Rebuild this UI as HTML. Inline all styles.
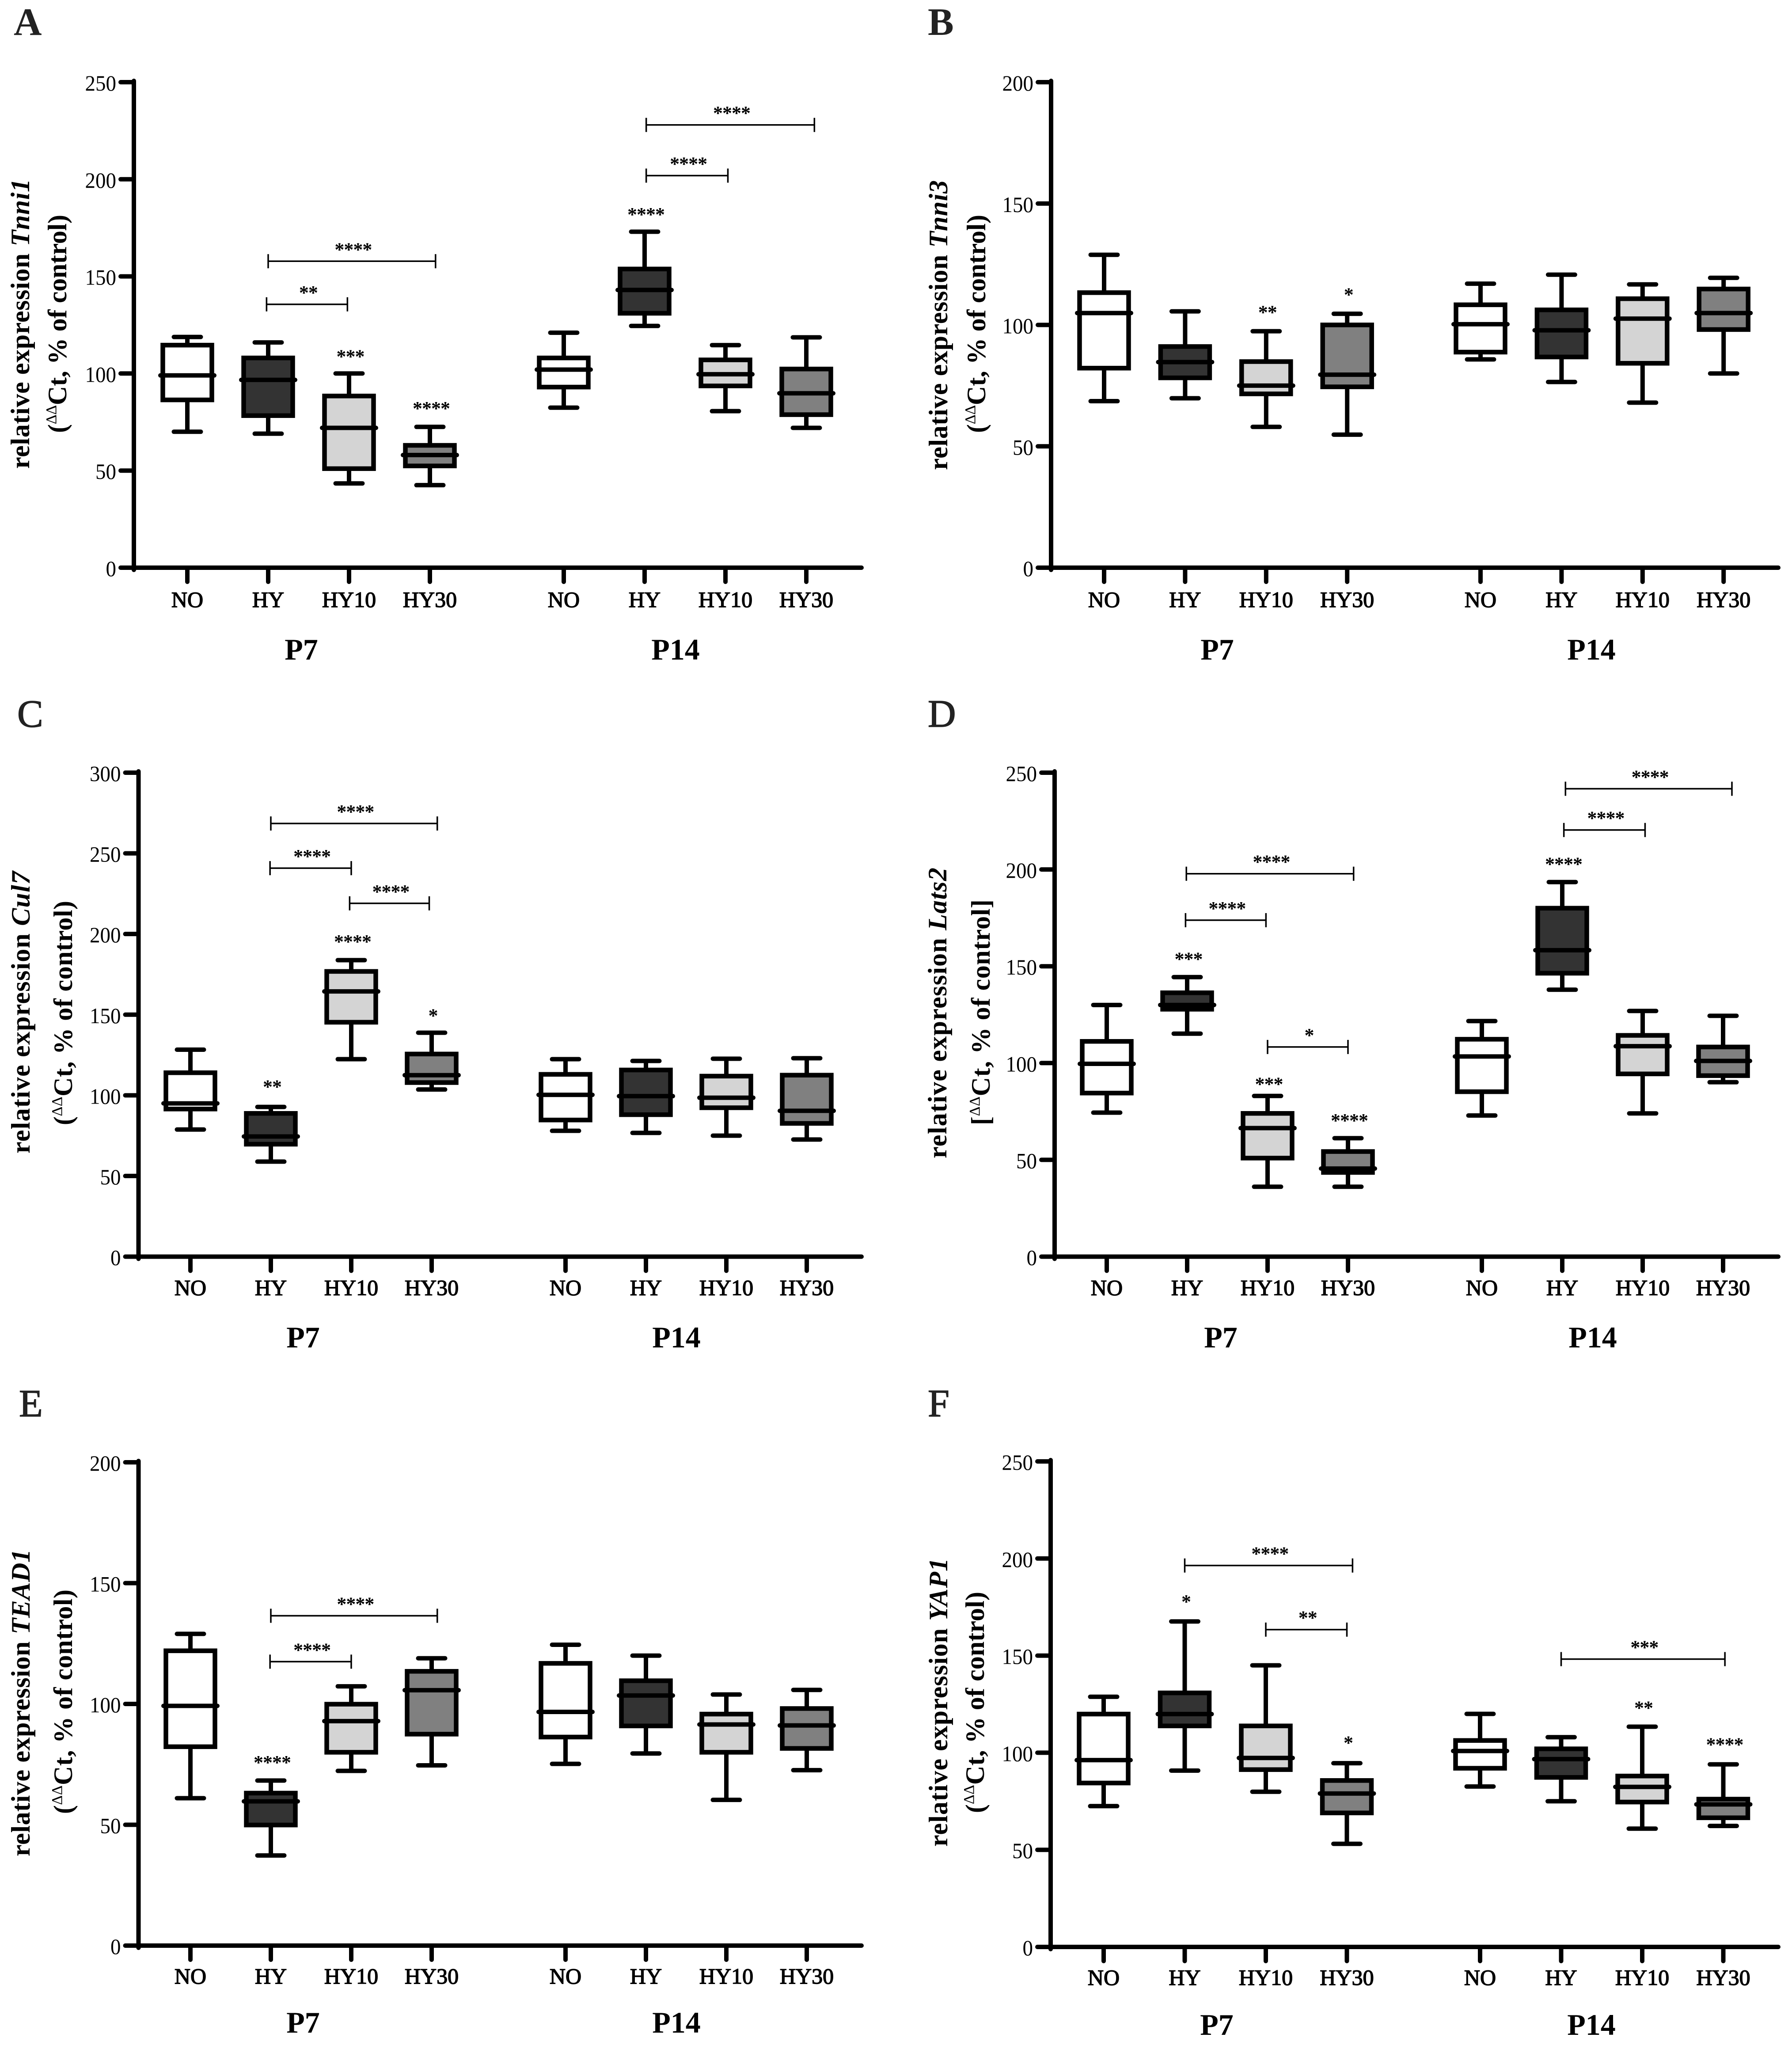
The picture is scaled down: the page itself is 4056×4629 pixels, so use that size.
<!DOCTYPE html>
<html lang="en">
<head>
<meta charset="utf-8">
<title>Relative gene expression box plots</title>
<style>
html,body{margin:0;padding:0;background:#fff}
svg{display:block;position:absolute;left:0;top:0}
text{font-family:"Liberation Serif",serif;fill:#000}
</style>
</head>
<body>
<svg id="figure" xmlns="http://www.w3.org/2000/svg" width="4056" height="4629" viewBox="0 0 4056 4629"></svg>
<script>
/* Shared categories */
const categories = ['NO', 'HY', 'HY10', 'HY30', 'NO', 'HY', 'HY10', 'HY30'];
const groupLabels = ['P7', 'P14'];
const boxFills = ['#ffffff', '#333333', '#d4d4d4', '#808080', '#ffffff', '#333333', '#d4d4d4', '#808080'];

/* Panel A: Tnni1 */
const aTicks = [0, 50, 100, 150, 200, 250];
const aMin = [70, 69, 43.4, 42.5, 82.4, 124.5, 80.6, 72];
const aQ1 = [86.4, 78.3, 51, 52.4, 93, 131, 93.6, 78.8];
const aMedian = [99, 96.7, 72, 58, 102, 143, 99.6, 89.8];
const aQ3 = [114.6, 108, 88.4, 63, 108, 153.8, 107, 102.3];
const aMax = [118.8, 116, 100, 72.5, 121, 173, 114.6, 118.6];
const aBracketFrom = [1, 0.98, 5.02, 5.02];
const aBracketTo = [3.07, 1.98, 7.1, 6.03];
const aBracketValue = [157.8, 135.6, 228, 201.9];
const aBracketStars = ['****', '**', '****', '****'];
const aStarCategory = [2, 3, 5];
const aStarValue = [110, 83.3, 183.1];
const aStarLabel = ['***', '****', '****'];

/* Panel B: Tnni3 */
const bTicks = [0, 50, 100, 150, 200];
const bMin = [68.6, 69.8, 58, 54.8, 85.8, 76.5, 68, 80];
const bQ1 = [82.2, 78.2, 71.6, 74.5, 88.8, 86.8, 84.2, 98.1];
const bMedian = [104.9, 84.7, 75, 79.5, 100.3, 97.8, 102.6, 104.9];
const bQ3 = [113.3, 91.1, 84.9, 100, 108.3, 106.2, 110.8, 114.8];
const bMax = [128.9, 105.6, 97.4, 104.6, 117, 120.7, 116.7, 119.4];
const bBracketFrom = [];
const bBracketTo = [];
const bBracketValue = [];
const bBracketStars = [];
const bStarCategory = [2, 3];
const bStarValue = [106.2, 113.5];
const bStarLabel = ['**', '*'];

/* Panel C: Cul7 */
const cTicks = [0, 50, 100, 150, 200, 250, 300];
const cMin = [78.8, 58.9, 122.4, 103.6, 78, 76.7, 75, 72.6];
const cQ1 = [91.5, 69.7, 145.3, 107.9, 84.7, 88, 92.3, 82.6];
const cMedian = [95, 74.5, 164.4, 112.5, 100.3, 99.5, 98.5, 90.4];
const cQ3 = [114, 88.8, 176.8, 125.6, 113, 115.7, 111.9, 112.5];
const cMax = [128.3, 92.8, 183.8, 138.8, 122.4, 121.3, 122.7, 123];
const cBracketFrom = [1, 0.99, 1.98];
const cBracketTo = [3.07, 2, 2.97];
const cBracketValue = [268.5, 240.8, 219];
const cBracketStars = ['****', '****', '****'];
const cStarCategory = [2, 3, 1];
const cStarValue = [196.7, 150.9, 106.8];
const cStarLabel = ['****', '*', '**'];

/* Panel D: Lats2 */
const dTicks = [0, 50, 100, 150, 200, 250];
const dMin = [74.4, 115.2, 36.1, 36.1, 72.9, 137.9, 74, 90.1];
const dQ1 = [84.5, 127.8, 50.9, 43.5, 85.2, 146.4, 94.4, 93.5];
const dMedian = [99.6, 130, 66.4, 45.5, 103.4, 158.3, 108.7, 101.1];
const dQ3 = [111.2, 136.3, 74, 54.3, 112.3, 180, 114.3, 108.3];
const dMax = [130, 144.4, 83, 61.2, 121.7, 193.5, 126.9, 124.4];
const dBracketFrom = [5.04, 5.02, 0.99, 0.98, 2];
const dBracketTo = [7.11, 6.03, 3.07, 1.98, 3];
const dBracketValue = [241.7, 220.4, 197.8, 173.8, 108.3];
const dBracketStars = ['****', '****', '****', '****', '*'];
const dStarCategory = [1, 2, 3, 5];
const dStarValue = [154.9, 90.4, 71.5, 204];
const dStarLabel = ['***', '***', '****', '****'];

/* Panel E: TEAD1 */
const eTicks = [0, 50, 100, 150, 200];
const eMin = [61, 37.3, 72.3, 74.6, 75.2, 79.5, 60.3, 72.6];
const eQ1 = [82.3, 49.9, 80, 87.5, 86.3, 90.9, 80, 81.6];
const eMedian = [99.2, 59.7, 92.9, 105.7, 96.7, 103.5, 91.5, 91.1];
const eQ3 = [122, 63.1, 99.9, 113.5, 116.8, 109.6, 95.8, 98.1];
const eMax = [129, 68.3, 107.3, 118.9, 124.5, 120, 103.9, 105.8];
const eBracketFrom = [1, 0.99];
const eBracketTo = [3.07, 2];
const eBracketValue = [136.5, 117.5];
const eBracketStars = ['****', '****'];
const eStarCategory = [1];
const eStarValue = [76.8];
const eStarLabel = ['****'];

/* Panel F: YAP1 */
const fTicks = [0, 50, 100, 150, 200, 250];
const fMin = [72.5, 90.8, 79.9, 53.1, 82.6, 75, 60.9, 62.3];
const fQ1 = [84.4, 113.8, 91.3, 69, 92, 87.3, 74.6, 66.5];
const fMedian = [96.2, 119.9, 97.3, 79, 100.9, 96.7, 82.4, 73.4];
const fQ3 = [119.9, 130.8, 113.8, 85.7, 106.3, 102, 88, 76.1];
const fMax = [128.8, 167.6, 145, 94.6, 120, 108, 113.4, 94];
const fBracketFrom = [1, 2, 5];
const fBracketTo = [3.07, 3, 7.02];
const fBracketValue = [196.4, 163.4, 148.2];
const fBracketStars = ['****', '**', '***'];
const fStarCategory = [1, 3, 6, 7];
const fStarValue = [179, 106.3, 124.3, 105.4];
const fStarLabel = ['*', '*', '**', '****'];

const SVG_NS = 'http://www.w3.org/2000/svg';
const svg = document.getElementById('figure');

function mk(tag, parent, attrs) {
  const el = document.createElementNS(SVG_NS, tag);
  for (const k in attrs) el.setAttribute(k, attrs[k]);
  parent.appendChild(el);
  return el;
}

function drawPanel(cfg) {
  const g = mk('g', svg, {});
  
  

  const topTick = cfg.ticks[cfg.ticks.length - 1];
  const yScale = v => cfg.y0 - (v / topTick) * (cfg.y0 - cfg.yTop);
  const xScale = i => i < 4
    ? cfg.xStart + i * cfg.step
    : cfg.xGroup2 + (i - 4) * cfg.step;

  /* Panel letter */
  const letter = mk('text', g, {x: cfg.letterX, y: cfg.letterY, 'font-size': 88, 'font-weight': cfg.letterWeight, stroke: '#222', 'stroke-width': cfg.letterStroke, style: 'fill:#222'});
  
  
  letter.textContent = cfg.letter;

  /* Y axis title, two rotated lines */
  const t1 = mk('text', g, {
    transform: 'translate(' + cfg.title1X + ' ' + cfg.title1End + ') rotate(-90)',
    'font-size': 60, 'font-weight': 'bold', textLength: cfg.title1Len
  });
  
  
  t1.appendChild(document.createTextNode('relative expression '));
  const gene = mk('tspan', t1, {'font-style': 'italic'});
  gene.textContent = cfg.gene;

  const t2 = mk('text', g, {
    transform: 'translate(' + cfg.title2X + ' ' + cfg.title2End + ') rotate(-90)',
    'font-size': 60, 'font-weight': 'bold', textLength: cfg.title2Len
  });
  
  
  t2.appendChild(document.createTextNode(cfg.open));
  const delta = mk('tspan', t2, {'font-size': 34, 'font-weight': 'normal', dy: -23});
  delta.textContent = '\u0394\u0394';
  const rest = mk('tspan', t2, {dy: 23});
  rest.textContent = 'Ct, % of control' + cfg.close;

  /* Axes */
  const yAxis = mk('line', g, {x1: cfg.axisX, x2: cfg.axisX, y1: cfg.yTop - 3, y2: cfg.y0 + 5, stroke: '#000', 'stroke-width': 10, 'stroke-linecap': 'round'});
  
  
  const xAxis = mk('line', g, {x1: cfg.axisX, x2: cfg.right - 5, y1: cfg.y0, y2: cfg.y0, stroke: '#000', 'stroke-width': 10, 'stroke-linecap': 'round'});
  
  

  /* Y ticks and labels */
  cfg.ticks.forEach(v => {
    const tick = mk('line', g, {x1: cfg.axisX - 30, x2: cfg.axisX, y1: yScale(v), y2: yScale(v), stroke: '#000', 'stroke-width': 10, 'stroke-linecap': 'round'});
    
    
    const label = mk('text', g, {x: cfg.axisX - 40, y: yScale(v) + 19, 'font-size': 50, 'text-anchor': 'end', textLength: String(v).length * 23.5, lengthAdjust: 'spacingAndGlyphs'});
    
    
    label.textContent = v;
  });

  /* Categories: x ticks, labels and boxes */
  categories.forEach((name, i) => {
    const x = xScale(i);
    const tick = mk('line', g, {x1: x, x2: x, y1: cfg.y0, y2: cfg.y0 + 32, stroke: '#000', 'stroke-width': 10, 'stroke-linecap': 'round'});
    
    
    const label = mk('text', g, {x: x, y: cfg.y0 + cfg.catLabelDy - 2, 'font-size': 50, 'text-anchor': 'middle', stroke: '#000', 'stroke-width': 1.5});
    
    
    label.textContent = name;

    const stem = mk('line', g, {x1: x, x2: x, y1: yScale(cfg.max[i]), y2: yScale(cfg.min[i]), stroke: '#000', 'stroke-width': 10});
    
    
    const capHigh = mk('line', g, {x1: x - 30.5, x2: x + 30.5, y1: yScale(cfg.max[i]), y2: yScale(cfg.max[i]), stroke: '#000', 'stroke-width': 10, 'stroke-linecap': 'round'});
    
    
    const capLow = mk('line', g, {x1: x - 30.5, x2: x + 30.5, y1: yScale(cfg.min[i]), y2: yScale(cfg.min[i]), stroke: '#000', 'stroke-width': 10, 'stroke-linecap': 'round'});
    
    
    const box = mk('rect', g, {x: x - 55.5, width: 111, y: yScale(cfg.q3[i]), height: yScale(cfg.q1[i]) - yScale(cfg.q3[i]), fill: boxFills[i], stroke: '#000', 'stroke-width': 10.5});
    
    
    const median = mk('line', g, {x1: x - 61, x2: x + 61, y1: yScale(cfg.median[i]), y2: yScale(cfg.median[i]), stroke: '#000', 'stroke-width': 10, 'stroke-linecap': 'round'});
    
    
  });

  /* Group labels */
  groupLabels.forEach((name, i) => {
    const label = mk('text', g, {x: cfg.groupX[i], y: cfg.y0 + cfg.groupDy, 'font-size': 68, 'font-weight': 'bold', 'text-anchor': 'middle'});
    
    
    label.textContent = name;
  });

  /* Significance brackets */
  cfg.bracketFrom.forEach((from, i) => {
    const xa = xScale(from);
    const xb = xScale(cfg.bracketTo[i]);
    const y = yScale(cfg.bracketValue[i]);
    const path = mk('path', g, {d: 'M' + xa + ' ' + (y - 16) + 'V' + (y + 16) + 'M' + xa + ' ' + y + 'H' + xb + 'M' + xb + ' ' + (y - 16) + 'V' + (y + 16), fill: 'none', stroke: '#000', 'stroke-width': 3.5});
    
    
    const stars = mk('text', g, {x: (xa + xb) / 2 + 3, y: y - 12, 'font-size': 44, 'font-weight': 'bold', 'letter-spacing': -1, 'text-anchor': 'middle'});
    
    
    stars.textContent = cfg.bracketStars[i];
  });

  /* Stars over individual boxes */
  cfg.starCategory.forEach((c, i) => {
    const stars = mk('text', g, {x: xScale(c) + 3, y: yScale(cfg.starValue[i]) + 20, 'font-size': 44, 'font-weight': 'bold', 'letter-spacing': -1, 'text-anchor': 'middle'});
    
    
    stars.textContent = cfg.starLabel[i];
  });
}

drawPanel({letter: 'A', letterX: 31, letterY: 79, letterWeight: 'bold', letterStroke: 0, gene: 'Tnni1', open: '(', close: ')',
  title1X: 66, title1End: 1061, title1Len: 656, title2X: 150, title2End: 980, title2Len: 494,
  axisX: 303, y0: 1285, yTop: 186, right: 1955, xStart: 424, xGroup2: 1276, step: 183, catLabelDy: 91, groupDy: 208, groupX: [682, 1529],
  ticks: aTicks, min: aMin, q1: aQ1, median: aMedian, q3: aQ3, max: aMax,
  bracketFrom: aBracketFrom, bracketTo: aBracketTo, bracketValue: aBracketValue, bracketStars: aBracketStars,
  starCategory: aStarCategory, starValue: aStarValue, starLabel: aStarLabel});

drawPanel({letter: 'B', letterX: 2100, letterY: 79, letterWeight: 'bold', letterStroke: 0, gene: 'Tnni3', open: '(', close: ')',
  title1X: 2144, title1End: 1064, title1Len: 656, title2X: 2230, title2End: 980, title2Len: 494,
  axisX: 2379, y0: 1285, yTop: 186, right: 4030, xStart: 2499, xGroup2: 3351, step: 183.4, catLabelDy: 91, groupDy: 208, groupX: [2755, 3602],
  ticks: bTicks, min: bMin, q1: bQ1, median: bMedian, q3: bQ3, max: bMax,
  bracketFrom: bBracketFrom, bracketTo: bBracketTo, bracketValue: bBracketValue, bracketStars: bBracketStars,
  starCategory: bStarCategory, starValue: bStarValue, starLabel: bStarLabel});

drawPanel({letter: 'C', letterX: 39, letterY: 1645, letterWeight: 'normal', letterStroke: 1.5, gene: 'Cul7', open: '(', close: ')',
  title1X: 67, title1End: 2611, title1Len: 639, title2X: 163, title2End: 2547, title2Len: 508,
  axisX: 313.5, y0: 2844.5, yTop: 1749, right: 1955, xStart: 431, xGroup2: 1280, step: 182, catLabelDy: 89, groupDy: 205.5, groupX: [686, 1531],
  ticks: cTicks, min: cMin, q1: cQ1, median: cMedian, q3: cQ3, max: cMax,
  bracketFrom: cBracketFrom, bracketTo: cBracketTo, bracketValue: cBracketValue, bracketStars: cBracketStars,
  starCategory: cStarCategory, starValue: cStarValue, starLabel: cStarLabel});

drawPanel({letter: 'D', letterX: 2100, letterY: 1645, letterWeight: 'normal', letterStroke: 1.5, gene: 'Lats2', open: '[', close: ']',
  title1X: 2142, title1End: 2622, title1Len: 658, title2X: 2240, title2End: 2547, title2Len: 511,
  axisX: 2387, y0: 2844.5, yTop: 1749, right: 4030, xStart: 2505, xGroup2: 3354, step: 182, catLabelDy: 89, groupDy: 205.5, groupX: [2763, 3605],
  ticks: dTicks, min: dMin, q1: dQ1, median: dMedian, q3: dQ3, max: dMax,
  bracketFrom: dBracketFrom, bracketTo: dBracketTo, bracketValue: dBracketValue, bracketStars: dBracketStars,
  starCategory: dStarCategory, starValue: dStarValue, starLabel: dStarLabel});

drawPanel({letter: 'E', letterX: 43, letterY: 3206, letterWeight: 'normal', letterStroke: 1.5, gene: 'TEAD1', open: '(', close: ')',
  title1X: 67, title1End: 4202, title1Len: 695, title2X: 163, title2End: 4106, title2Len: 508,
  axisX: 313.5, y0: 4404, yTop: 3310, right: 1955, xStart: 431, xGroup2: 1280, step: 182, catLabelDy: 88, groupDy: 197, groupX: [686, 1531],
  ticks: eTicks, min: eMin, q1: eQ1, median: eMedian, q3: eQ3, max: eMax,
  bracketFrom: eBracketFrom, bracketTo: eBracketTo, bracketValue: eBracketValue, bracketStars: eBracketStars,
  starCategory: eStarCategory, starValue: eStarValue, starLabel: eStarLabel});

drawPanel({letter: 'F', letterX: 2100, letterY: 3206, letterWeight: 'normal', letterStroke: 1.5, gene: 'YAP1', open: '(', close: ')',
  title1X: 2144, title1End: 4180, title1Len: 653, title2X: 2227, title2End: 4104, title2Len: 501,
  axisX: 2378, y0: 4407, yTop: 3308, right: 4030, xStart: 2498, xGroup2: 3350, step: 183.5, catLabelDy: 88, groupDy: 199, groupX: [2754, 3602],
  ticks: fTicks, min: fMin, q1: fQ1, median: fMedian, q3: fQ3, max: fMax,
  bracketFrom: fBracketFrom, bracketTo: fBracketTo, bracketValue: fBracketValue, bracketStars: fBracketStars,
  starCategory: fStarCategory, starValue: fStarValue, starLabel: fStarLabel});
</script>
</body>
</html>
